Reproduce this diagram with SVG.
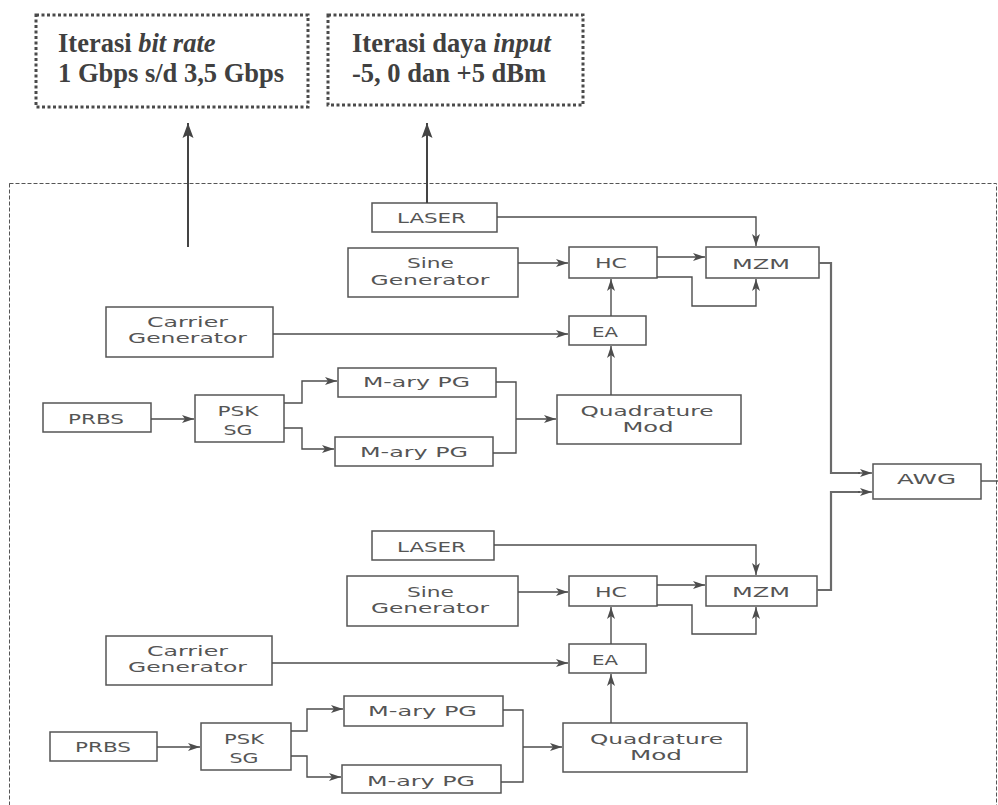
<svg xmlns="http://www.w3.org/2000/svg" width="998" height="805" viewBox="0 0 998 805">
  <style>
    .blk { fill: #ffffff; stroke: #555555; stroke-width: 1.5; }
    .lbl { font-family: "DejaVu Sans", Verdana, sans-serif; font-size: 14.5px; fill: #555555; text-anchor: middle; }
    .note { font-family: "Liberation Serif", "Times New Roman", serif; font-size: 26.5px; font-weight: bold; fill: #404040; }
    .dot { fill: none; stroke: #4a4a4a; stroke-width: 3; stroke-dasharray: 3 2.5; }
    .wire { fill: none; stroke: #4d4d4d; stroke-width: 1.4; }
    .wire-a { fill: none; stroke: #4d4d4d; stroke-width: 1.4; marker-end: url(#ah); }
    .trunk { fill: none; stroke: #6a6a6a; stroke-width: 2.2; }
    .up { fill: none; stroke: #444444; stroke-width: 2; marker-end: url(#ahBig); }
  </style>
  <defs>
    <marker id="ah" markerUnits="userSpaceOnUse" markerWidth="13" markerHeight="10" refX="12" refY="5" orient="auto">
      <path d="M0,1 L12,5 L0,9 L3,5 z" fill="#4d4d4d"/>
    </marker>
    <marker id="ahBig" markerUnits="userSpaceOnUse" markerWidth="16" markerHeight="12" refX="15" refY="6" orient="auto">
      <path d="M0,0.5 L15,6 L0,11.5 L3,6 z" fill="#444444"/>
    </marker>
  </defs>

  <rect width="998" height="805" fill="#ffffff"/>

  <!-- dashed enclosure of the simulation setup -->
  <rect x="9.5" y="183.5" width="987" height="650" fill="none" stroke="#555555" stroke-width="1" stroke-dasharray="4 2"/>

  <!-- parameter notes -->
  <g id="note-bitrate">
    <rect class="dot" x="36" y="15" width="272" height="92"/>
    <text class="note" x="58" y="52">Iterasi <tspan font-style="italic">bit rate</tspan></text>
    <text class="note" x="58" y="82">1 Gbps s/d 3,5 Gbps</text>
  </g>
  <g id="note-power">
    <rect class="dot" x="328" y="15" width="255" height="90"/>
    <text class="note" x="352" y="52">Iterasi daya <tspan font-style="italic">input</tspan></text>
    <text class="note" x="352" y="82">-5, 0 dan +5 dBm</text>
  </g>

  <!-- upper transmitter -->
  <g id="laser1"><rect class="blk" x="372" y="203" width="125" height="29"/><text class="lbl" x="431.5" y="223" textLength="69" lengthAdjust="spacingAndGlyphs">LASER</text></g>
  <g id="sine1"><rect class="blk" x="348" y="248" width="170" height="49"/><text class="lbl" x="430.5" y="268" textLength="47" lengthAdjust="spacingAndGlyphs">Sine</text><text class="lbl" x="430" y="285" textLength="119" lengthAdjust="spacingAndGlyphs">Generator</text></g>
  <g id="carrier1"><rect class="blk" x="106" y="307" width="167" height="50"/><text class="lbl" x="187.5" y="327" textLength="81" lengthAdjust="spacingAndGlyphs">Carrier</text><text class="lbl" x="187.5" y="343" textLength="119" lengthAdjust="spacingAndGlyphs">Generator</text></g>
  <g id="prbs1"><rect class="blk" x="43" y="403" width="108" height="29"/><text class="lbl" x="96" y="424" textLength="56" lengthAdjust="spacingAndGlyphs">PRBS</text></g>
  <g id="psk1"><rect class="blk" x="195" y="395" width="89" height="47"/><text class="lbl" x="238" y="416" textLength="41" lengthAdjust="spacingAndGlyphs">PSK</text><text class="lbl" x="238" y="435" textLength="29" lengthAdjust="spacingAndGlyphs">SG</text></g>
  <g id="mary1a"><rect class="blk" x="338" y="368" width="158" height="29"/><text class="lbl" x="416.5" y="387" textLength="107" lengthAdjust="spacingAndGlyphs">M-ary PG</text></g>
  <g id="mary1b"><rect class="blk" x="335" y="437" width="158" height="29"/><text class="lbl" x="414" y="457" textLength="108" lengthAdjust="spacingAndGlyphs">M-ary PG</text></g>
  <g id="hc1"><rect class="blk" x="569" y="247" width="88" height="31"/><text class="lbl" x="611" y="268" textLength="32" lengthAdjust="spacingAndGlyphs">HC</text></g>
  <g id="mzm1"><rect class="blk" x="706" y="247" width="113" height="31"/><text class="lbl" x="761" y="269" textLength="58" lengthAdjust="spacingAndGlyphs">MZM</text></g>
  <g id="ea1"><rect class="blk" x="569" y="316" width="77" height="29"/><text class="lbl" x="605" y="337" textLength="26" lengthAdjust="spacingAndGlyphs">EA</text></g>
  <g id="qmod1"><rect class="blk" x="557" y="395" width="184" height="49"/><text class="lbl" x="647" y="416" textLength="133" lengthAdjust="spacingAndGlyphs">Quadrature</text><text class="lbl" x="648" y="432" textLength="51" lengthAdjust="spacingAndGlyphs">Mod</text></g>

  <!-- multiplexer -->
  <g id="awg"><rect class="blk" x="873" y="464" width="108" height="35"/><text class="lbl" x="926.5" y="484" textLength="59" lengthAdjust="spacingAndGlyphs">AWG</text></g>

  <!-- lower transmitter -->
  <g id="laser2"><rect class="blk" x="372" y="531" width="122" height="29"/><text class="lbl" x="431.5" y="552" textLength="69" lengthAdjust="spacingAndGlyphs">LASER</text></g>
  <g id="sine2"><rect class="blk" x="347" y="576" width="171" height="50"/><text class="lbl" x="430.5" y="597" textLength="47" lengthAdjust="spacingAndGlyphs">Sine</text><text class="lbl" x="430" y="613" textLength="118" lengthAdjust="spacingAndGlyphs">Generator</text></g>
  <g id="carrier2"><rect class="blk" x="106" y="636" width="166" height="49"/><text class="lbl" x="187.5" y="656" textLength="81" lengthAdjust="spacingAndGlyphs">Carrier</text><text class="lbl" x="187.5" y="672" textLength="119" lengthAdjust="spacingAndGlyphs">Generator</text></g>
  <g id="prbs2"><rect class="blk" x="50" y="732" width="107" height="29"/><text class="lbl" x="103" y="752" textLength="56" lengthAdjust="spacingAndGlyphs">PRBS</text></g>
  <g id="psk2"><rect class="blk" x="201" y="723" width="90" height="47"/><text class="lbl" x="244" y="744" textLength="40" lengthAdjust="spacingAndGlyphs">PSK</text><text class="lbl" x="244" y="763" textLength="29" lengthAdjust="spacingAndGlyphs">SG</text></g>
  <g id="mary2a"><rect class="blk" x="344" y="696" width="159" height="30"/><text class="lbl" x="422.5" y="716" textLength="109" lengthAdjust="spacingAndGlyphs">M-ary PG</text></g>
  <g id="mary2b"><rect class="blk" x="342" y="765" width="159" height="28"/><text class="lbl" x="421" y="786" textLength="108" lengthAdjust="spacingAndGlyphs">M-ary PG</text></g>
  <g id="hc2"><rect class="blk" x="569" y="576" width="88" height="30"/><text class="lbl" x="611" y="597" textLength="32" lengthAdjust="spacingAndGlyphs">HC</text></g>
  <g id="mzm2"><rect class="blk" x="706" y="576" width="111" height="30"/><text class="lbl" x="761" y="597" textLength="58" lengthAdjust="spacingAndGlyphs">MZM</text></g>
  <g id="ea2"><rect class="blk" x="569" y="644" width="77" height="29"/><text class="lbl" x="605" y="665" textLength="26" lengthAdjust="spacingAndGlyphs">EA</text></g>
  <g id="qmod2"><rect class="blk" x="563" y="723" width="184" height="49"/><text class="lbl" x="656.5" y="744" textLength="133" lengthAdjust="spacingAndGlyphs">Quadrature</text><text class="lbl" x="656" y="760" textLength="52" lengthAdjust="spacingAndGlyphs">Mod</text></g>

  <g id="connectors">
    <!-- links to the parameter notes -->
    <path class="up" d="M188,247 V123"/>
    <path class="up" d="M427,203 V123"/>

    <!-- upper chain -->
    <path class="wire-a" d="M497,217 H756 V246"/>
    <path class="wire-a" d="M518,263 H568"/>
    <path class="wire-a" d="M657,257 H705"/>
    <path class="wire-a" d="M657,277 H692 V306 H756 V279"/>
    <path class="wire-a" d="M611,316 V279"/>
    <path class="wire-a" d="M273,334 H568"/>
    <path class="wire-a" d="M611,395 V346"/>
    <path class="wire-a" d="M151,419 H194"/>
    <path class="wire-a" d="M284,403 H302 V381 H337"/>
    <path class="wire-a" d="M284,428 H302 V449 H334"/>
    <path class="wire" d="M496,382 H516 V453 H493"/>
    <path class="wire-a" d="M516,419 H556"/>

    <!-- lower chain -->
    <path class="wire-a" d="M494,545 H756 V575"/>
    <path class="wire-a" d="M518,592 H568"/>
    <path class="wire-a" d="M657,585 H705"/>
    <path class="wire-a" d="M657,605 H692 V634 H756 V607"/>
    <path class="wire-a" d="M611,644 V607"/>
    <path class="wire-a" d="M272,663 H568"/>
    <path class="wire-a" d="M611,723 V674"/>
    <path class="wire-a" d="M157,747 H200"/>
    <path class="wire-a" d="M291,731 H307 V709 H343"/>
    <path class="wire-a" d="M291,756 H307 V777 H341"/>
    <path class="wire" d="M503,710 H523 V782 H501"/>
    <path class="wire-a" d="M523,747 H562"/>

    <!-- modulator outputs into the AWG -->
    <path class="trunk" d="M819,263 H831 V473 H860"/>
    <path class="trunk" d="M817,590 H831 V492 H860"/>
    <path class="wire-a" d="M858,473 H872"/>
    <path class="wire-a" d="M858,492 H872"/>
    <path class="wire" d="M981,481 H998"/>
  </g>
</svg>
